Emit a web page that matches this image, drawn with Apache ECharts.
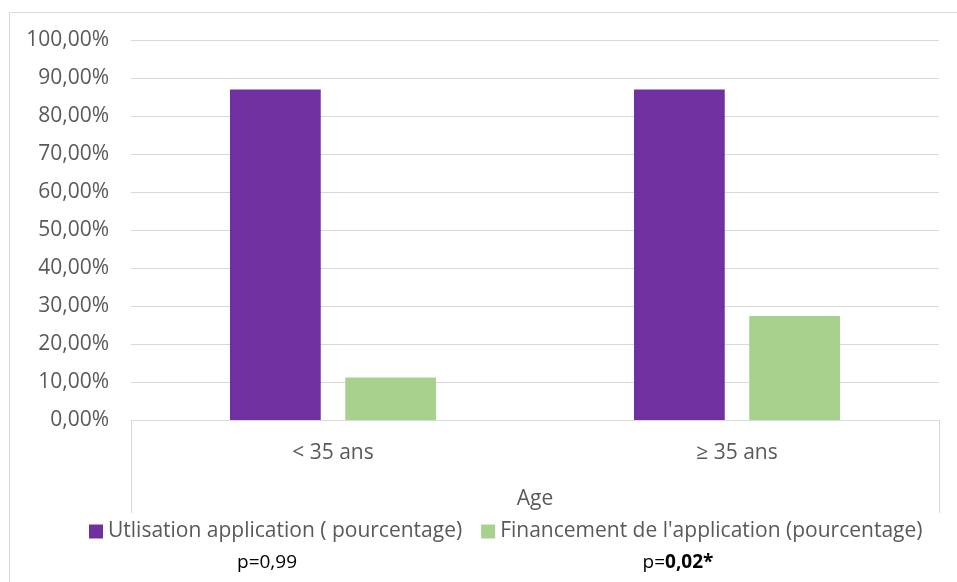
<!DOCTYPE html>
<html>
<head>
<meta charset="utf-8">
<script src="https://cdn.jsdelivr.net/npm/echarts@6/dist/echarts.min.js"></script>
<style>
    html, body { margin: 0; padding: 0; background: #fff; }
    #chart { width: 957px; height: 582px; }
</style>
</head>
<body>
<div id="chart"></div>
<script>
    // categories (age groups)
    var categories = ['< 35 ans', '≥ 35 ans'];
    // series names
    var seriesNames = ['Utlisation application ( pourcentage)', "Financement de l'application (pourcentage)"];
    // values in %
    var utilisation = [87.0, 87.0];
    var financement = [11.2, 27.4];
    // p-values shown under the legend
    var pValues = ['0,99', '0,02*'];

    var grey = '#595959';
    var lineGrey = '#D9D9D9';
    var font = 'Open Sans';

    var myChart = echarts.init(document.getElementById('chart'));

    var option = {
        animation: false,
        textStyle: {fontFamily: font},
        grid: {left: 131, right: 18, top: 40, bottom: 162},
        legend: {
            data: seriesNames,
            bottom: 35,
            left: 84,
            itemWidth: 14,
            itemHeight: 14,
            itemGap: 19,
            icon: 'rect',
            textStyle: {color: grey, fontSize: 21, fontFamily: font}
        },
        xAxis: {
            type: 'category',
            data: categories,
            name: 'Age',
            nameLocation: 'middle',
            nameGap: 69,
            nameTextStyle: {color: grey, fontSize: 21, fontFamily: font},
            axisLine: {lineStyle: {color: lineGrey, width: 1}},
            axisTick: {
                show: true,
                length: 93,
                interval: function (index) { return index === 0; },
                lineStyle: {color: lineGrey, width: 1}
            },
            axisLabel: {color: grey, fontSize: 21, margin: 23, fontFamily: font}
        },
        yAxis: {
            type: 'value',
            min: 0,
            max: 100,
            interval: 10,
            axisLine: {show: false},
            axisTick: {show: false},
            splitLine: {lineStyle: {color: lineGrey, width: 1}},
            axisLabel: {
                color: grey,
                fontSize: 21,
                margin: 22,
                fontFamily: font,
                formatter: function (v) { return v.toFixed(2).replace('.', ',') + '%'; }
            }
        },
        series: [
            {
                name: seriesNames[0],
                type: 'bar',
                data: utilisation,
                itemStyle: {color: '#7030A0'},
                barGap: '27%',
                barCategoryGap: '49%'
            },
            {
                name: seriesNames[1],
                type: 'bar',
                data: financement,
                itemStyle: {color: '#A9D18E'}
            }
        ],
        graphic: [
            {
                type: 'rect',
                left: 7,
                top: 10,
                shape: {width: 1000, height: 700},
                style: {fill: 'none', stroke: lineGrey, lineWidth: 1},
                silent: true,
                z: -10
            },
            {
                type: 'text',
                x: 267,
                y: 563,
                style: {
                    text: 'p=' + pValues[0],
                    fill: '#000',
                    font: '19px "' + font + '"',
                    align: 'center',
                    verticalAlign: 'middle'
                }
            },
            {
                type: 'text',
                x: 678,
                y: 563,
                style: {
                    text: '{n|p=}{b|' + pValues[1] + '}',
                    align: 'center',
                    verticalAlign: 'middle',
                    rich: {
                        n: {fill: '#000', fontSize: 19, fontFamily: font},
                        b: {fill: '#000', fontSize: 19, fontFamily: font, fontWeight: 'bold'}
                    }
                }
            }
        ]
    };

    myChart.setOption(option);
</script>
</body>
</html>
